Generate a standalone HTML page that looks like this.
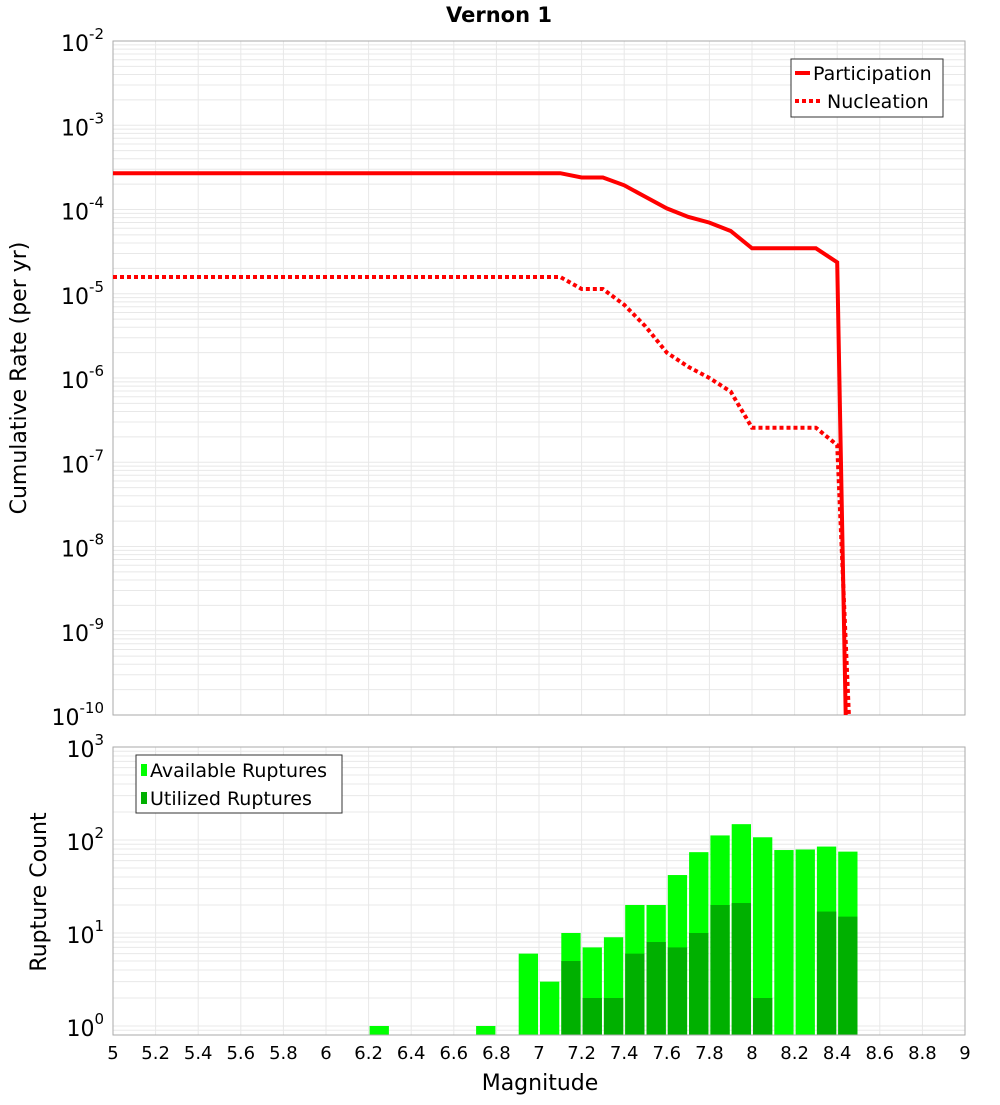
<!DOCTYPE html>
<html><head><meta charset="utf-8"><style>
body{margin:0;background:#fff;font-family:"Liberation Sans","DejaVu Sans",sans-serif}
svg text{font-family:"DejaVu Sans","Liberation Sans",sans-serif}
</style></head><body>
<svg id="c" width="1000" height="1100" xmlns="http://www.w3.org/2000/svg"></svg>
<script>
const xTicks=[5,5.2,5.4,5.6,5.8,6,6.2,6.4,6.6,6.8,7,7.2,7.4,7.6,7.8,8,8.2,8.4,8.6,8.8,9];
const partMag=[5,7.1,7.2,7.3,7.4,7.5,7.6,7.7,7.8,7.9,8.0,8.1,8.2,8.3,8.4,8.44];
const partRate=[2.7e-4,2.7e-4,2.4e-4,2.4e-4,1.94e-4,1.41e-4,1.03e-4,8.2e-5,7.0e-5,5.55e-5,3.46e-5,3.46e-5,3.46e-5,3.46e-5,2.36e-5,1e-10];
const nuclMag=[5,7.1,7.2,7.3,7.4,7.5,7.6,7.7,7.8,7.9,8.0,8.1,8.2,8.3,8.4,8.455];
const nuclRate=[1.58e-5,1.58e-5,1.14e-5,1.14e-5,7.4e-6,4.1e-6,2.0e-6,1.36e-6,1.0e-6,6.9e-7,2.57e-7,2.57e-7,2.57e-7,2.57e-7,1.6e-7,1e-10];
const binMag=[6.25,6.75,6.95,7.05,7.15,7.25,7.35,7.45,7.55,7.65,7.75,7.85,7.95,8.05,8.15,8.25,8.35,8.45];
const availCount=[1,1,6,3,10,7,9,20,20,42,74,112,148,107,78,79,85,75];
const usedCount=[0,0,0,0,5,2,2,6,8,7,10,20,21,2,0,0,17,15];
const topYTicks=[-2,-3,-4,-5,-6,-7,-8,-9,-10];
const botYTicks=[3,2,1,0];

const svg=document.getElementById('c');const NS='http://www.w3.org/2000/svg';
function el(t,a,p){const e=document.createElementNS(NS,t);for(const k in a)e.setAttribute(k,a[k]);(p||svg).appendChild(e);return e;}
const X0=113,X1=965;
const sx=m=>X0+(m-5)/4*(X1-X0);
const T0=41,T1=715;const sy=v=>T0+(-2-Math.log10(v))/8*(T1-T0);
const B0=747,B1=1035,BD=93,B0v=1026;const by=v=>B0v-Math.log10(v)*BD;

function grid(top,bot,decades,yf){
  const g=el('g',{});
  
  
  for(const d of decades){for(let k=1;k<10;k++){const y=yf(k*Math.pow(10,d));if(y>=top&&y<=bot)el('line',{x1:X0,x2:X1,y1:y,y2:y,stroke:'#e8e8e8','stroke-width':1},g);}}
  xTicks.forEach(m=>el('line',{x1:sx(m),x2:sx(m),y1:top,y2:bot,stroke:'#e8e8e8','stroke-width':1},g));
}
// top panel
grid(T0,T1,[-10,-9,-8,-7,-6,-5,-4,-3,-2],sy);
el('rect',{x:X0,y:T0,width:X1-X0,height:T1-T0,fill:'none',stroke:'#aaa'});
topYTicks.forEach(e=>{const y=sy(Math.pow(10,e));const t=el('text',{x:104,y:y+10,'text-anchor':'end','font-size':22});t.innerHTML='10<tspan dy="-12" font-size="15">'+e+'</tspan>';});
function line(ms,vs,dash,name){const d=ms.map((m,i)=>(i?'L':'M')+sx(m).toFixed(1)+','+sy(vs[i]).toFixed(1)).join('');const p=el('path',{d:d,fill:'none',stroke:'#f00','stroke-width':4,'stroke-dasharray':dash||'none'});}
line(partMag,partRate,null,'participation-line');
line(nuclMag,nuclRate,'4,3','nucleation-line');
// top legend
const lg=el('g',{});
el('rect',{x:791,y:59,width:152,height:58,fill:'#fff',stroke:'#333'},lg);
el('line',{x1:795,x2:810,y1:73,y2:73,stroke:'#f00','stroke-width':4},lg);
el('line',{x1:795,x2:823,y1:101,y2:101,stroke:'#f00','stroke-width':4,'stroke-dasharray':'4,3'},lg);
el('text',{x:813,y:80,'font-size':19},lg).textContent='Participation';
el('text',{x:827,y:108,'font-size':19},lg).textContent='Nucleation';
// title
const tt=el('text',{x:499,y:22,'text-anchor':'middle','font-size':21,'font-weight':'bold'});tt.textContent='Vernon 1';
const yt=el('text',{x:0,y:0,'text-anchor':'middle','font-size':22,transform:'translate(26,378) rotate(-90)'});yt.textContent='Cumulative Rate (per yr)';
// bottom panel
grid(B0,B1,[-1,0,1,2],by);
const bw=sx(0.1)-sx(0)-2;
binMag.forEach((m,i)=>{
  const x=sx(m-0.05)+1;
  const r=el('rect',{x:x,y:by(availCount[i]),width:bw,height:B1-by(availCount[i]),fill:'#00ff00'});
  
  if(usedCount[i]>0){const u=el('rect',{x:x,y:by(usedCount[i]),width:bw,height:B1-by(usedCount[i]),fill:'#00b000'});
  }
});
el('rect',{x:X0,y:B0,width:X1-X0,height:B1-B0,fill:'none',stroke:'#aaa'});
botYTicks.forEach(e=>{const y=by(Math.pow(10,e));const t=el('text',{x:104,y:y+10,'text-anchor':'end','font-size':22});t.innerHTML='10<tspan dy="-12" font-size="15">'+e+'</tspan>';});
xTicks.forEach(m=>{const t=el('text',{x:sx(m),y:1059,'text-anchor':'middle','font-size':18});t.textContent=String(m);});
const xt=el('text',{x:540,y:1090,'text-anchor':'middle','font-size':22});xt.textContent='Magnitude';
const yt2=el('text',{x:0,y:0,'text-anchor':'middle','font-size':22,transform:'translate(46,892) rotate(-90)'});yt2.textContent='Rupture Count';
const lg2=el('g',{});
el('rect',{x:136,y:755,width:206,height:58,fill:'#fff',stroke:'#333'},lg2);
el('rect',{x:141,y:764,width:6,height:12,fill:'#00ff00'},lg2);
el('rect',{x:141,y:792,width:6,height:12,fill:'#00b000'},lg2);
el('text',{x:150,y:777,'font-size':19},lg2).textContent='Available Ruptures';
el('text',{x:150,y:805,'font-size':19},lg2).textContent='Utilized Ruptures';
</script>
</body></html>
